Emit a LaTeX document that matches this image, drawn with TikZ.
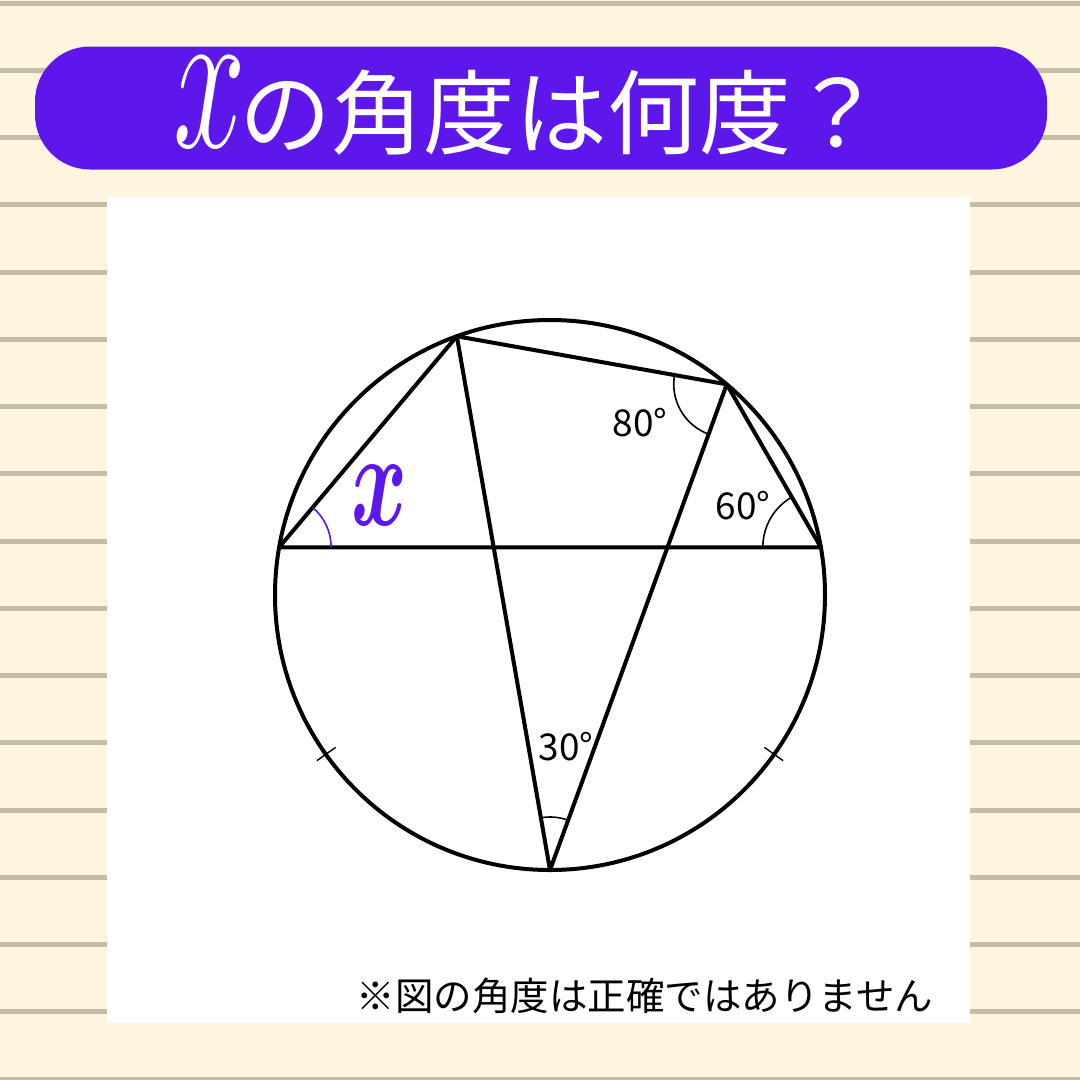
\RequirePackage{fix-cm}
\documentclass[tikz,border=0pt]{standalone}
\usepackage{bm}
\usepackage{fontspec}
\setmainfont{Noto Sans CJK JP}
\usetikzlibrary{angles}
\definecolor{cream}{RGB}{254,245,223}
\definecolor{stripe}{RGB}{197,188,168}
\definecolor{banner}{RGB}{94,23,235}
\newcommand{\slimx}[3]{\scalebox{#1}[1]{\fontsize{#2}{#2}\selectfont$#3$}}

\begin{document}
\begin{tikzpicture}[x=1pt,y=-1pt,
    chord/.style={draw=black,line width=4pt,line cap=round,line join=round},
    anglearc/.style={draw=#1,line width=1.6pt,angle radius=52pt},
    deg/.style={font=\fontsize{37}{40}\selectfont,inner sep=0pt}]
    \useasboundingbox (0,0) rectangle (1080,1080);
    \fill[cream] (0,0) rectangle (1080,1080);
    \foreach \k in {0,...,16}
        \draw[stripe,line width=5pt] (0,3+67.25*\k) -- (1080,3+67.25*\k);

    \node[fill=banner,rounded corners=55pt,minimum width=1012pt,minimum height=123pt] (bar) at (541,108) {};
    \node[text=white,font=\fontsize{92}{96}\selectfont,inner sep=0pt,anchor=east] (title) at (884,106) {\slimx{0.62}{210}{x}\hspace{-6pt}の角度は何度？};
    \fill[white] (107,197) rectangle (970,1023);

    \coordinate (O) at (550,595);
    \coordinate (A) at ([shift={(190:275)}]O);
    \coordinate (B) at ([shift={(250.2:275)}]O);
    \coordinate (C) at ([shift={(310:275)}]O);
    \coordinate (D) at ([shift={(350:275)}]O);
    \coordinate (E) at ([shift={(90:275)}]O);

    \draw[chord] (O) circle (275);
    \draw[chord] (A) -- (B) -- (C) -- (D) -- cycle;
    \draw[chord] (B) -- (E) -- (C);

    \pic[anglearc=banner,angle radius=52pt] {angle=D--A--B};
    \pic[anglearc=black,angle radius=58pt] {angle=C--D--A};
    \pic[anglearc=black,angle radius=53pt] {angle=B--C--E};
    \pic[anglearc=black,angle radius=53pt] {angle=C--E--B};

    \draw[line width=1.4pt] ([shift={(144.6:263)}]O) -- ([shift={(144.6:286)}]O);
    \draw[line width=1.4pt] ([shift={(35.4:263)}]O) -- ([shift={(35.4:286)}]O);

    \node[text=banner,inner sep=0pt] (xlabel) at (380,495) {\slimx{0.63}{135}{\bm{x}}};
    \node[deg] (a80) at (640,423) {80°};
    \node[deg] (a60) at (743,506) {60°};
    \node[deg] (a30) at (566,747) {30°};

    \node[font=\fontsize{38.5}{40}\selectfont,inner sep=0pt] (note) at (645,996) {※図の角度は正確ではありません};
\end{tikzpicture}
\end{document}
